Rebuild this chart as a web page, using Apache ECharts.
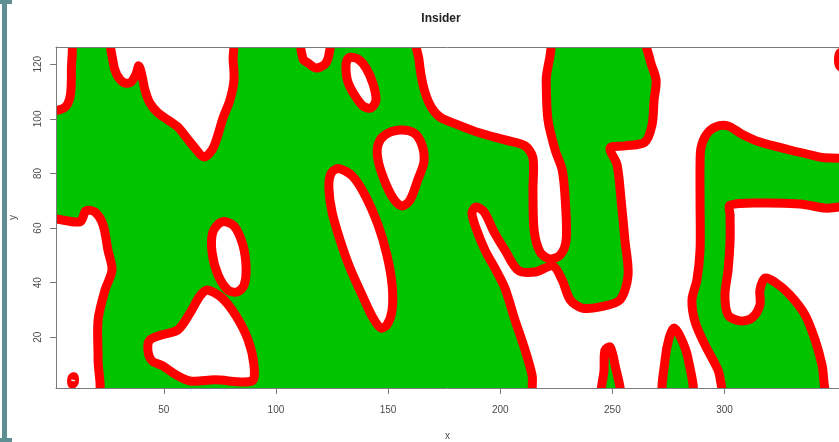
<!DOCTYPE html>
<html>
<head>
<meta charset="utf-8">
<script src="https://cdn.jsdelivr.net/npm/echarts@6/dist/echarts.min.js"></script>
<style>
  html, body { margin: 0; padding: 0; background: #fff; }
  #main { width: 839px; height: 442px; }
</style>
</head>
<body>
<div id="main"></div>
<script>
// axis ranges and ticks
const xLimits = [1.94, 351.05];
const yLimits = [1.42, 126.33];
const xTicks = [50, 100, 150, 200, 250, 300];
const yTicks = [20, 40, 60, 80, 100, 120];

// white patches (outlined in red) on the green field, [x, y]
const whiteA = [[-3,130],[8.2,130],[8.8,118],[8.4,109],[6.4,104.6],[2.8,103.2],[-3,103]];
const whiteB = [[27.4,128.9],[27.4,120.8],[29.1,116.1],[32.3,113.2],[35.4,113.5],[37.6,116.4],[38.9,119.4],
  [40.3,115.7],[41.6,110.6],[43.8,105.8],[47.4,102.2],[51.9,99.6],[56.3,97.0],[59.9,93.4],[63.9,89.3],
  [67.9,86.0],[71.5,88.6],[73.7,93.0],[76.4,100.3],[79.5,106.9],[81.3,114.2],[80.9,121.6],[80,128.9]];
const whiteC = [[111.6,128.9],[112.1,121.9],[114.3,120.5],[117.9,118.6],[121.9,120.1],[123.7,123.8],[123.7,128.9]];
const whiteD = [[133.0,122.6],[136.6,121.9],[140.2,118.6],[143.3,112.8],[144.6,106.9],[142.4,104.0],
  [138.9,104.7],[135.3,108.4],[132.1,113.5],[131.2,118.6],[131.7,121.6]];
const whiteE = [[163.3,129.6],[163.8,121.6],[165.6,112.4],[168.7,105.1],[173.1,100.7],[181.2,97.8],[191.0,94.8],
  [202.1,92.3],[211.1,90.1],[214.6,85.7],[214.6,74.0],[215.1,59.3],[217.8,51.2],[222.2,48.7],[226.7,50.1],
  [229.4,55.6],[229.0,70.3],[227.6,81.4],[224.5,88.6],[221.3,99.6],[220.5,114.2],[220.9,129.6]];
const whiteF = [[265.9,129.6],[266.8,121.6],[269.5,114.2],[268.6,106.9],[267.7,97.8],[264.5,91.5],[255.6,90.1],
  [249.0,89.3],[252.1,83.2],[253.9,70.3],[255.6,55.6],[257.0,42.8],[253.4,33.7],[244.5,31.1],[236.5,30.7],
  [231.2,33.7],[227.6,41.0],[223.5,46.1],[215.5,43.9],[207.9,44.6],[202.1,51.9],[197.2,58.6],[192.8,65.9],
  [189.2,67.7],[187.4,65.6],[189.2,60.0],[193.2,51.9],[198.1,44.6],[202.1,38.0],[206.6,26.3],[211.1,15.3],
  [214.2,6.2],[216.0,-2.2],[356,-2.2],[356,129.6]];
const whiteI = [[-2.9,62.3],[12.6,62.3],[15.3,66.3],[19.3,65.9],[22.9,61.2],[25.1,51.9],[26.9,44.6],[23.8,37.3],
  [20.7,26.3],[20.7,11.7],[20.2,-2.2],[-2.9,-2.2]];
const whiteJ = [[75.9,62.3],[81.3,60.8],[85.3,53.7],[86.7,45.4],[85.8,39.1],[82.7,36.6],[78.6,37.3],[74.2,42.8],
  [71.5,51.2],[71.9,58.6]];
const whiteK = [[69.3,37.3],[75.9,34.4],[82.2,27.8],[87.6,19.0],[90.2,9.8],[89.3,4.0],[72.8,4.4],[61.7,4.0],
  [55.0,6.5],[49.6,9.5],[44.7,11.4],[42.9,15.3],[43.8,19.0],[49.2,20.9],[56.3,22.7],[61.7,28.9],[66.1,35.1]];
const whiteN = [[148.6,94.1],[155.3,95.9],[161.6,94.8],[165.1,90.4],[166.0,84.3],[163.3,77.8],[159.8,70.3],
  [156.2,68.1],[152.2,71.0],[148.2,77.8],[145.5,85.0],[145.5,90.4]];
const whiteO = [[127.7,81.8],[133.9,79.2],[139.7,72.1],[145.5,61.2],[149.5,50.1],[151.8,39.1],[151.8,30.0],
  [149.5,24.5],[146.8,23.4],[143.3,27.1],[138.4,35.5],[133.0,45.4],[128.6,55.6],[125.0,65.9],[123.6,74.7],[124.5,79.9]];
const spotLow = [[9.1,5.1],[10.0,5.5],[10.0,3.3],[9.1,2.9]];
const spotEdge = [[351.4,124.1],[356,124.8],[356,118.6],[351.4,119.3]];

// green patches lying inside the big white area, and the white inside them
const greenH = [[289.1,83.2],[289.5,89.3],[291.8,94.1],[295.8,97.0],[301.6,97.4],[307.8,94.4],[315.8,91.5],
  [329.2,88.6],[342.6,86.0],[356,83.5],[356,-2.2],[301.6,-2.2],[297.1,8.0],[291.3,17.2],[286.9,25.6],
  [285.5,33.7],[287.7,41.0],[289.1,51.9],[289.1,70.3]];
const greenS1 = [[246.7,15.3],[249.0,16.4],[251.2,9.8],[253.4,-2.2],[245.4,-2.2],[246.3,8.0]];
const greenS2 = [[273.0,-2.2],[273.5,11.7],[275.3,19.7],[277.5,23.4],[280.6,19.7],[283.7,12.4],[285.5,-2.2]];
const whiteG = [[302.5,68.4],[315.8,69.2],[333.7,68.8],[344.8,67.3],[356,66.6],[356,-2.2],[346.2,-2.2],
  [343.5,9.8],[340.4,19.0],[335.9,28.2],[329.2,35.5],[322.5,40.2],[318.1,41.7],[315.8,37.3],[315.8,31.8],
  [312.3,27.1],[306.9,26.0],[301.6,28.2],[300.2,35.5],[301.6,44.6],[302.5,55.6],[302.5,64.8]];

const GREEN = '#00c400';
const WHITE = '#ffffff';
const RED = '#ff0000';

const field = [[xLimits[0], yLimits[0]], [xLimits[1], yLimits[0]], [xLimits[1], yLimits[1]], [xLimits[0], yLimits[1]]];

// painting order: later patches lie on top
const patches = [
  { pts: field, fill: GREEN, edge: false },
  { pts: whiteA, fill: WHITE, edge: true },
  { pts: whiteB, fill: WHITE, edge: true },
  { pts: whiteC, fill: WHITE, edge: true },
  { pts: whiteD, fill: WHITE, edge: true },
  { pts: whiteE, fill: WHITE, edge: true },
  { pts: whiteF, fill: WHITE, edge: true },
  { pts: whiteI, fill: WHITE, edge: true },
  { pts: whiteJ, fill: WHITE, edge: true },
  { pts: whiteK, fill: WHITE, edge: true },
  { pts: whiteN, fill: WHITE, edge: true },
  { pts: whiteO, fill: WHITE, edge: true },
  { pts: spotLow, fill: WHITE, edge: true },
  { pts: spotEdge, fill: WHITE, edge: true },
  { pts: greenH, fill: GREEN, edge: true },
  { pts: greenS1, fill: GREEN, edge: true },
  { pts: greenS2, fill: GREEN, edge: true },
  { pts: whiteG, fill: WHITE, edge: true }
];

function renderItem(params, api) {
  const p = patches[params.dataIndex];
  const points = p.pts.map(function (d) { return api.coord(d); });
  return {
    type: 'polygon',
    shape: { points: points, smooth: p.edge ? 0.3 : 0 },
    style: {
      fill: p.fill,
      stroke: p.edge ? RED : null,
      lineWidth: p.edge ? 9 : 0,
      lineJoin: 'round'
    }
  };
}

const axisGray = '#7a7a7a';
const labelGray = '#4a4a4a';

const chart = echarts.init(document.getElementById('main'), null, { renderer: 'canvas' });
chart.setOption({
  animation: false,
  backgroundColor: '#fff',
  textStyle: { fontFamily: 'Liberation Sans, Arial, sans-serif' },
  title: {
    text: 'Insider',
    left: 436,
    top: 8,
    textAlign: 'center',
    textStyle: { fontSize: 12, fontWeight: 'bold', color: '#222' }
  },
  grid: { left: 56, right: 0, top: 47, bottom: 54, outerBoundsMode: 'none', containLabel: false },
  xAxis: [{
    type: 'value',
    min: xLimits[0],
    max: xLimits[1],
    z: 10,
    axisLine: { show: true, onZero: false, lineStyle: { color: axisGray } },
    axisTick: { show: true, length: 6, customValues: xTicks, lineStyle: { color: axisGray } },
    axisLabel: { customValues: xTicks, color: labelGray, fontSize: 10, margin: 17 },
    splitLine: { show: false },
    name: 'x',
    nameLocation: 'middle',
    nameGap: 43,
    nameTextStyle: { color: labelGray, fontSize: 10 }
  }, {
    type: 'value',
    position: 'top',
    min: xLimits[0],
    max: xLimits[1],
    z: 10,
    axisLine: { show: true, onZero: false, lineStyle: { color: axisGray } },
    axisTick: { show: false },
    axisLabel: { show: false },
    splitLine: { show: false }
  }],
  yAxis: [{
    type: 'value',
    min: yLimits[0],
    max: yLimits[1],
    z: 10,
    axisLine: { show: true, onZero: false, lineStyle: { color: axisGray } },
    axisTick: { show: true, length: 6, customValues: yTicks, lineStyle: { color: axisGray } },
    axisLabel: { customValues: yTicks, color: labelGray, fontSize: 10, margin: 13, rotate: 90 },
    splitLine: { show: false },
    name: 'y',
    nameLocation: 'middle',
    nameGap: 38,
    nameTextStyle: { color: labelGray, fontSize: 10 }
  }],
  graphic: [
    { type: 'rect', shape: { x: 2, y: 0, width: 5, height: 442 }, style: { fill: '#5f8e93' } },
    { type: 'rect', shape: { x: 0, y: 0, width: 12, height: 4 }, style: { fill: '#5f8e93' } },
    { type: 'rect', shape: { x: 0, y: 438, width: 12, height: 4 }, style: { fill: '#5f8e93' } }
  ],
  series: [{
    type: 'custom',
    xAxisIndex: 0,
    yAxisIndex: 0,
    clip: true,
    renderItem: renderItem,
    data: patches.map(function (p, i) { return [i]; })
  }]
});
</script>
</body>
</html>
